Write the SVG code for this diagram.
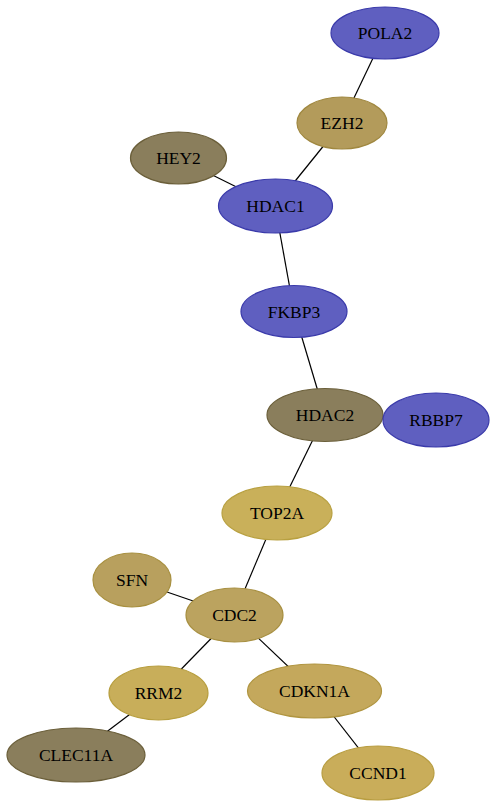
<svg xmlns="http://www.w3.org/2000/svg" width="496" height="807" viewBox="0 0 496 807">
<style>
.e{stroke:#000;stroke-width:1.2;fill:none}
.n ellipse{stroke-width:1.2}
.b{fill:#5f5fc0;stroke:#3a3aaa}
.d{fill:#8a7e5c;stroke:#6b5f3a}
text{font-family:"Liberation Serif",serif;font-size:17.5px;text-anchor:middle;dominant-baseline:central;fill:#000}
</style>
<rect width="496" height="807" fill="#fff"/>
<g id="edges">
<line class="e" x1="385" y1="33" x2="342" y2="123"/>
<line class="e" x1="342" y1="123" x2="275" y2="206"/>
<line class="e" x1="178" y1="158" x2="275" y2="206"/>
<line class="e" x1="275" y1="206" x2="294" y2="311"/>
<line class="e" x1="294" y1="311" x2="325" y2="415"/>
<line class="e" x1="325" y1="415" x2="277" y2="513"/>
<line class="e" x1="277" y1="513" x2="234" y2="615"/>
<line class="e" x1="132" y1="580" x2="234" y2="615"/>
<line class="e" x1="234" y1="615" x2="158" y2="693"/>
<line class="e" x1="234" y1="615" x2="314" y2="691"/>
<line class="e" x1="158" y1="693" x2="76" y2="755"/>
<line class="e" x1="314" y1="691" x2="378" y2="773"/>
</g>
<g id="POLA2" class="n"><ellipse class="b" cx="385" cy="33" rx="54" ry="26"/><text x="385" y="33">POLA2</text></g>
<g id="EZH2" class="n"><ellipse cx="342" cy="123" rx="45" ry="26" fill="#b39b5b" stroke="#a08840"/><text x="342" y="123">EZH2</text></g>
<g id="HEY2" class="n"><ellipse class="d" cx="178.5" cy="158" rx="48" ry="26"/><text x="178.5" y="158">HEY2</text></g>
<g id="HDAC1" class="n"><ellipse class="b" cx="275.5" cy="206" rx="57" ry="27"/><text x="275.5" y="206">HDAC1</text></g>
<g id="FKBP3" class="n"><ellipse class="b" cx="294" cy="311.5" rx="53" ry="26"/><text x="294" y="311.5">FKBP3</text></g>
<g id="HDAC2" class="n"><ellipse class="d" cx="325" cy="415" rx="58" ry="26.5"/><text x="325" y="415">HDAC2</text></g>
<g id="RBBP7" class="n"><ellipse class="b" cx="436" cy="420" rx="53" ry="27"/><text x="436" y="420">RBBP7</text></g>
<g id="TOP2A" class="n"><ellipse cx="277" cy="513" rx="55" ry="27" fill="#c9b05a" stroke="#b8a040"/><text x="277" y="513">TOP2A</text></g>
<g id="SFN" class="n"><ellipse cx="132" cy="580" rx="39" ry="27" fill="#b8a05e" stroke="#a89040"/><text x="132" y="580">SFN</text></g>
<g id="CDC2" class="n"><ellipse cx="234.5" cy="615" rx="48.5" ry="27" fill="#bba35f" stroke="#a89042"/><text x="234.5" y="615">CDC2</text></g>
<g id="RRM2" class="n"><ellipse cx="158.5" cy="693" rx="49.5" ry="27" fill="#c8ae5a" stroke="#b89f40"/><text x="158.5" y="693">RRM2</text></g>
<g id="CDKN1A" class="n"><ellipse cx="314.5" cy="691" rx="67" ry="27" fill="#c4a85c" stroke="#b09540"/><text x="314.5" y="691">CDKN1A</text></g>
<g id="CLEC11A" class="n"><ellipse class="d" cx="76" cy="755" rx="69" ry="27"/><text x="76" y="755">CLEC11A</text></g>
<g id="CCND1" class="n"><ellipse cx="378" cy="773" rx="56" ry="27" fill="#c9ad5a" stroke="#b89d40"/><text x="378" y="773">CCND1</text></g>
</svg>
